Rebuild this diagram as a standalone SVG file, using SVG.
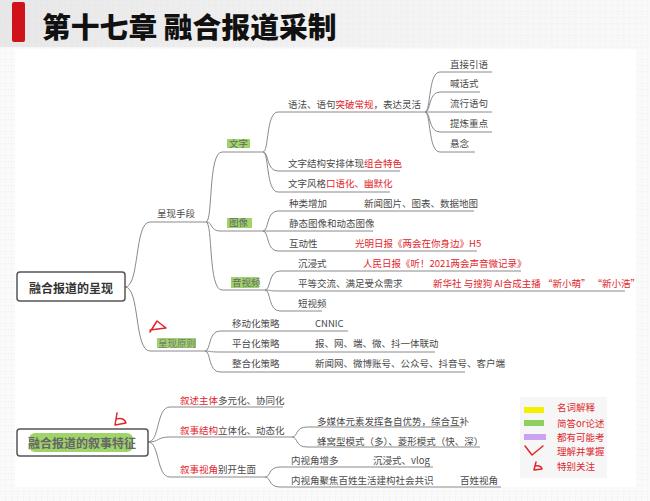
<svg xmlns="http://www.w3.org/2000/svg" width="650" height="501" viewBox="0 0 650 501">
<defs>
<pattern id="grid" width="6" height="6" patternUnits="userSpaceOnUse">
<rect width="6" height="6" fill="#fafafa"/>
<path d="M6 0V6M0 6H6" stroke="#e2e2e2" stroke-width="0.6" stroke-dasharray="1 1"/>
</pattern>
<linearGradient id="hdr" x1="0" y1="0" x2="1" y2="0">
<stop offset="0" stop-color="#d8d8d8" stop-opacity="0.55"/>
<stop offset="0.6" stop-color="#e6e6e6" stop-opacity="0.35"/>
<stop offset="1" stop-color="#f0f0f0" stop-opacity="0.1"/>
</linearGradient>
<style>
.t{font-family:"Noto Sans CJK SC","Microsoft YaHei",sans-serif;font-size:9.5px;fill:#4a4a4a;dominant-baseline:central}
.r{fill:#e0262c}
.hl{fill:#9fd46b}
.lg{font-family:"Noto Sans CJK SC",sans-serif;font-size:9.5px;fill:#e0262c;dominant-baseline:central}
.root{fill:#fff;stroke:#555;stroke-width:1.5}
.rt{font-family:"Noto Sans CJK SC",sans-serif;font-size:12px;font-weight:bold;fill:#333;dominant-baseline:central}
.c{fill:none;stroke:#8a8a8a;stroke-width:1}
.mk{fill:none;stroke:#e0262c;stroke-width:1.5;stroke-linejoin:round;stroke-linecap:round}
</style>
</defs>
<rect width="650" height="501" fill="url(#grid)"/>
<rect x="0" y="0" width="650" height="47" fill="url(#hdr)"/>
<rect x="15" y="49" width="621" height="438" fill="#fff"/>

<g id="title">
<rect x="12" y="2" width="13" height="40" rx="2" fill="#d0121b"/>
<text x="42" y="25" style="font-family:'Noto Sans CJK SC',sans-serif;font-size:28.8px;font-weight:900;fill:#111;dominant-baseline:central">第十七章 融合报道采制</text>
</g>

<g id="connectors">
<path class="c" d="M125,287 C140,287 134,222 150,222 H206"/>
<path class="c" d="M125,287 C140,287 134,351 150,351 H205"/>
<path class="c" d="M206,222 C213,222 208,152 222,152 H263"/>
<path class="c" d="M206,222 C213,222 210,231 220,231 H263"/>
<path class="c" d="M206,222 C213,222 208,290 222,290 H265"/>
<path class="c" d="M263,152 C269,152 266,112 278,112 H425"/>
<path class="c" d="M263,152 C269,152 266,171 278,171 H400"/>
<path class="c" d="M263,152 C269,152 266,192 278,192 H390"/>
<path class="c" d="M425,112 C431,112 428,72 440,72 H492"/>
<path class="c" d="M425,112 C431,112 428,92 440,92 H480"/>
<path class="c" d="M425,112 H492"/>
<path class="c" d="M425,112 C431,112 428,132 440,132 H492"/>
<path class="c" d="M425,112 C431,112 428,152 440,152 H475"/>
<path class="c" d="M263,231 C269,231 266,211 278,211 H474"/>
<path class="c" d="M263,231 H373"/>
<path class="c" d="M263,231 C269,231 266,251 278,251 H477"/>
<path class="c" d="M265,290 C271,290 268,271 280,271 H521"/>
<path class="c" d="M265,290 C271,290 268,291 280,291 H625"/>
<path class="c" d="M265,290 C271,290 268,311 280,311 H322"/>
<path class="c" d="M205,351 C211,351 208,331 220,331 H348"/>
<path class="c" d="M205,351 C211,351 208,352 220,352 H435"/>
<path class="c" d="M205,351 C211,351 208,372 220,372 H465"/>
<path class="c" d="M148,442 C160,442 156,407 170,407 H283"/>
<path class="c" d="M148,442 C160,442 156,437 170,437 H292"/>
<path class="c" d="M148,442 C160,442 156,477 170,477 H265"/>
<path class="c" d="M292,437 C298,437 295,427 307,427 H462"/>
<path class="c" d="M292,437 C298,437 295,447 307,447 H480"/>
<path class="c" d="M265,477 C271,477 268,467 280,467 H433"/>
<path class="c" d="M265,477 C271,477 268,487 280,487 H501"/>
</g>

<g id="root1">
<rect class="root" x="17" y="272" width="108" height="29" rx="3"/>
<text class="rt" x="71" y="287" text-anchor="middle">融合报道的呈现</text>
</g>
<g id="n-chengxianshouduan"><text class="t" x="157" y="213">呈现手段</text></g>
<g id="n-wenzi"><rect class="hl" x="227" y="139" width="23" height="9"/><text class="t" x="229" y="143" style="fill:#666">文字</text></g>
<g id="n-tuxiang"><rect class="hl" x="227" y="218" width="25" height="10"/><text class="t" x="229" y="222" style="fill:#666">图像</text></g>
<g id="n-yinshipin"><rect class="hl" x="231" y="277" width="28" height="11"/><text class="t" x="232" y="282" style="fill:#666">音视频</text></g>
<g id="n-yuanze">
<rect class="hl" x="157" y="338" width="39" height="10"/><text class="t" x="158" y="343" style="fill:#777">呈现原则</text>
<path class="mk" d="M150,332 L157,321 L166,328 L150,330"/>
</g>

<g id="n-yufa"><text class="t" x="288" y="104">语法、语句<tspan class="r">突破常规</tspan>，表达灵活</text></g>
<g id="n-jiegou"><text class="t" x="288" y="163">文字结构安排体现<tspan class="r">组合特色</tspan></text></g>
<g id="n-fengge"><text class="t" x="288" y="183">文字风格<tspan class="r">口语化、幽默化</tspan></text></g>
<g id="n-zhijie"><text class="t" x="450" y="64">直接引语</text></g>
<g id="n-hanhua"><text class="t" x="450" y="83">喊话式</text></g>
<g id="n-liuxing"><text class="t" x="450" y="103">流行语句</text></g>
<g id="n-tilian"><text class="t" x="450" y="123">提炼重点</text></g>
<g id="n-xuannian"><text class="t" x="450" y="143">悬念</text></g>

<g id="n-zhonglei"><text class="t" x="289" y="203">种类增加</text><text class="t" x="364" y="203">新闻图片、图表、数据地图</text></g>
<g id="n-jingtai"><text class="t" x="289" y="223">静态图像和动态图像</text></g>
<g id="n-hudong"><text class="t" x="289" y="243">互动性</text><text class="t r" x="355" y="243">光明日报《两会在你身边》H5</text></g>

<g id="n-chenjin"><text class="t" x="298" y="263">沉浸式</text><text class="t r" x="363" y="263">人民日报《听！2021两会声音微记录》</text></g>
<g id="n-pingdeng"><text class="t" x="298" y="283">平等交流、满足受众需求</text><text class="t r" x="433" y="283">新华社 与搜狗 AI合成主播 “新小萌” “新小浩”</text></g>
<g id="n-duanshipin"><text class="t" x="298" y="303">短视频</text></g>

<g id="n-yidong"><text class="t" x="232" y="323">移动化策略</text><text class="t" x="315" y="323">CNNIC</text></g>
<g id="n-pingtai"><text class="t" x="232" y="343">平台化策略</text><text class="t" x="315" y="343">报、网、端、微、抖一体联动</text></g>
<g id="n-zhenghe"><text class="t" x="232" y="363">整合化策略</text><text class="t" x="315" y="363">新闻网、微博账号、公众号、抖音号、客户端</text></g>

<g id="root2">
<rect class="root" x="17" y="429" width="131" height="27" rx="3"/>
<rect class="hl" x="29" y="433" width="104" height="19" rx="6"/>
<text class="rt" x="82" y="442" text-anchor="middle" style="fill:#666">融合报道的叙事特征</text>
<path class="mk" d="M117,413 L115,425 L126,423 Q124,417 116,419"/>
</g>
<g id="n-zhuti"><text class="t" x="180" y="400"><tspan class="r">叙述主体</tspan>多元化、协同化</text></g>
<g id="n-jiegou2"><text class="t" x="180" y="430"><tspan class="r">叙事结构</tspan>立体化、动态化</text></g>
<g id="n-shijiao"><text class="t" x="180" y="469"><tspan class="r">叙事视角</tspan>别开生面</text></g>
<g id="n-duomeiti"><text class="t" x="317" y="421">多媒体元素发挥各自优势，综合互补</text></g>
<g id="n-fengwo"><text class="t" x="317" y="441">蜂窝型模式（多）、菱形模式（快、深）</text></g>
<g id="n-neishijiao"><text class="t" x="291" y="460">内视角增多</text><text class="t" x="373" y="460">沉浸式、vlog</text></g>
<g id="n-baixing"><text class="t" x="291" y="480">内视角聚焦百姓生活建构社会共识</text><text class="t" x="460" y="480">百姓视角</text></g>

<g id="legend">
<rect x="520" y="397" width="87" height="81" fill="#f6f6f6"/>
<rect x="524" y="407" width="20" height="6" fill="#f5ef00"/>
<rect x="524" y="420" width="20" height="6" fill="#8fcf5f"/>
<rect x="524" y="434" width="22" height="6" fill="#c9a2f2"/>
<path class="mk" d="M525,446 L532,455 L543,446"/>
<path class="mk" d="M536,462 L534,470 L542,469 Q541,465 535,466"/>
<text class="lg" x="557" y="407">名词解释</text>
<text class="lg" x="557" y="423">简答or论述</text>
<text class="lg" x="557" y="437">都有可能考</text>
<text class="lg" x="557" y="451">理解并掌握</text>
<text class="lg" x="557" y="466">特别关注</text>
</g>
</svg>
